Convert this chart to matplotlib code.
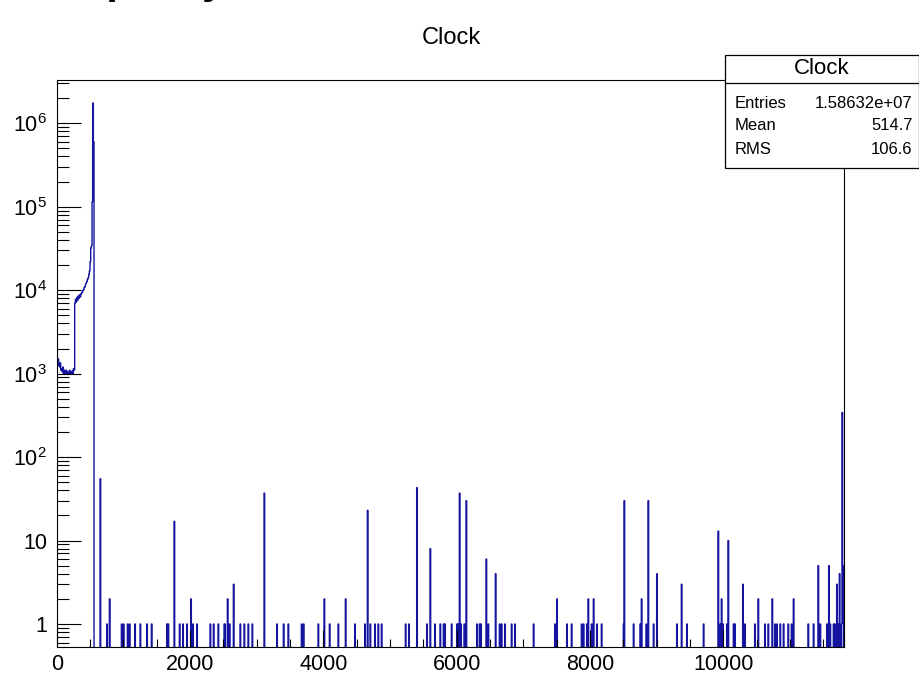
import numpy as np
import matplotlib.pyplot as plt
from matplotlib.patches import Rectangle
from matplotlib.ticker import FixedLocator, NullFormatter

plt.rcParams['font.family'] = ['Liberation Sans', 'DejaVu Sans']
plt.rcParams['mathtext.fontset'] = 'custom'
plt.rcParams['mathtext.rm'] = 'Liberation Sans'
plt.rcParams['mathtext.it'] = 'Liberation Sans'

# histogram binning
bin_width = 10
x_max = 11815

# dense part of the clock distribution, bins of 10 starting at 0
dense_counts = [2000, 1300, 1500, 1250, 1200, 1350, 1100, 1150, 1050, 1200,
                1000, 1100, 1050, 980, 1100, 1000, 1050, 980, 1000, 1100,
                1000, 1050, 1000, 1080, 1000, 1150, 1100,
                7000, 7800, 7200, 8200, 7600, 8500, 8000, 8800, 8300,
                9000, 9200, 9600, 9900, 10200, 10800, 11000, 11700, 12300,
                12800, 13500, 14200, 15500, 17000, 22000, 32000, 34000,
                115000, 1750000, 600000]

# isolated entries above 1
spike_x = [650, 790, 1765, 2015, 2560, 2650, 3115, 4015, 4330, 4665,
           5400, 5600, 6040, 6140, 6440, 6580, 7500, 7975, 8050, 8515,
           8775, 8875, 9000, 9375, 9920, 9970, 10075, 10290, 10525, 10730,
           11050, 11425, 11585, 11700, 11740, 11785, 11795]
spike_n = [55, 2, 17, 2, 2, 3, 37, 2, 2, 23,
           43, 8, 37, 30, 6, 4, 2, 2, 2, 30,
           2, 30, 4, 3, 13, 2, 10, 3, 2, 2,
           2, 5, 5, 3, 4, 343, 5]

# bins holding a single entry
single_x = [750, 975, 1000, 1060, 1090, 1175, 1250, 1350, 1425, 1650,
            1675, 1840, 1890, 1950, 2040, 2100, 2300, 2350, 2425, 2515,
            2525, 2590, 2750, 2810, 2875, 2935, 3300, 3400, 3475, 3675,
            3700, 3925, 4090, 4225, 4475, 4625, 4700, 4775, 4825, 4875,
            5235, 5285, 5550, 5675, 5750, 5800, 5825, 5925, 6000, 6025,
            6060, 6110, 6300, 6340, 6360, 6475, 6640, 6675, 6725, 6825,
            6875, 7150, 7475, 7650, 7725, 7875, 7900, 7950, 8025, 8100,
            8175, 8500, 8650, 8750, 8840, 8950, 9300, 9450, 9700, 9950,
            9990, 10050, 10150, 10175, 10325, 10475, 10625, 10675, 10775, 10800,
            10850, 10900, 10975, 11025, 11275, 11350, 11450, 11550, 11600, 11650,
            11675, 11725, 11775]

y_ticks = [1, 10, 1e2, 1e3, 1e4, 1e5, 1e6]
y_labels = ['1', '10', '$10^{2}$', '$10^{3}$', '$10^{4}$', '$10^{5}$', '$10^{6}$']
x_ticks = [0, 2000, 4000, 6000, 8000, 10000]

stats_rows = [('Entries', '1.58632e+07'), ('Mean', '514.7'), ('RMS', '106.6')]

# fill the bins
nbins = int(np.ceil(x_max / bin_width))
edges = np.arange(nbins + 1) * bin_width
counts = np.zeros(nbins)
counts[:len(dense_counts)] = dense_counts
for x in single_x:
    counts[int(x // bin_width)] = 1
for x, n in zip(spike_x, spike_n):
    counts[int(x // bin_width)] = n

y_min, y_max = 0.53, 3.3e6
plot_vals = np.where(counts > 0, counts, 1e-3)

fig = plt.figure(figsize=(9.19, 6.74), dpi=100)
ax = fig.add_axes([56.7 / 919, 1 - 647 / 674, (844.3 - 56.7) / 919, (647 - 80) / 674])

ax.stairs(plot_vals, edges, color='#1414a0', linewidth=1.0, baseline=None)

ax.set_yscale('log')
ax.set_xlim(0, x_max)
ax.set_ylim(y_min, y_max)

ax.yaxis.set_major_locator(FixedLocator(y_ticks))
ax.set_yticklabels(y_labels)
minor_y = [m * 10.0 ** k for k in range(-1, 7) for m in range(2, 10)]
ax.yaxis.set_minor_locator(FixedLocator([v for v in minor_y if y_min < v < y_max]))
ax.yaxis.set_minor_formatter(NullFormatter())

ax.set_xticks(x_ticks)
ax.set_xticklabels([str(v) for v in x_ticks])
ax.xaxis.set_minor_locator(FixedLocator(np.arange(500, x_max, 500)))

ax.tick_params(axis='y', which='major', direction='in', length=17.3, width=0.8,
               labelsize=15.5, pad=7)
ax.tick_params(axis='y', which='minor', direction='in', length=8.6, width=0.8)
ax.tick_params(axis='x', which='major', direction='in', length=12.2, width=0.8,
               labelsize=15.5, pad=5)
ax.tick_params(axis='x', which='minor', direction='in', length=6.1, width=0.8)
for s in ax.spines.values():
    s.set_linewidth(0.8)

fig.text(451 / 919, 1 - 38 / 674, 'Clock', ha='center', va='center', fontsize=17)

# clipped page heading at the very top
fig.text(4 / 919, 1 + 5.5 / 674, 'Occupancy', ha='left', va='baseline',
         fontsize=29.5, fontweight='bold')

# statistics box
bx0, bx1, by0, by1, bh = 725, 918.5, 55, 168.3, 83.3
fig.patches.append(Rectangle((bx0 / 919, 1 - by1 / 674), (bx1 - bx0) / 919,
                             (by1 - by0) / 674, transform=fig.transFigure,
                             facecolor='white', edgecolor='black', linewidth=0.9,
                             zorder=5))
fig.add_artist(plt.Line2D([bx0 / 919, bx1 / 919], [1 - bh / 674, 1 - bh / 674],
                          transform=fig.transFigure, color='black', linewidth=0.9,
                          zorder=6))
fig.text((bx0 + bx1) / 2 / 919, 1 - 69 / 674, 'Clock', ha='center', va='center',
         fontsize=16, zorder=7)
for i, (name, val) in enumerate(stats_rows):
    yy = 1 - (103 + i * 23) / 674
    fig.text(735 / 919, yy, name, ha='left', va='center', fontsize=12, zorder=7)
    fig.text(912.7 / 919, yy, val, ha='right', va='center', fontsize=12, zorder=7)

fig.savefig('out.png', dpi=100)
